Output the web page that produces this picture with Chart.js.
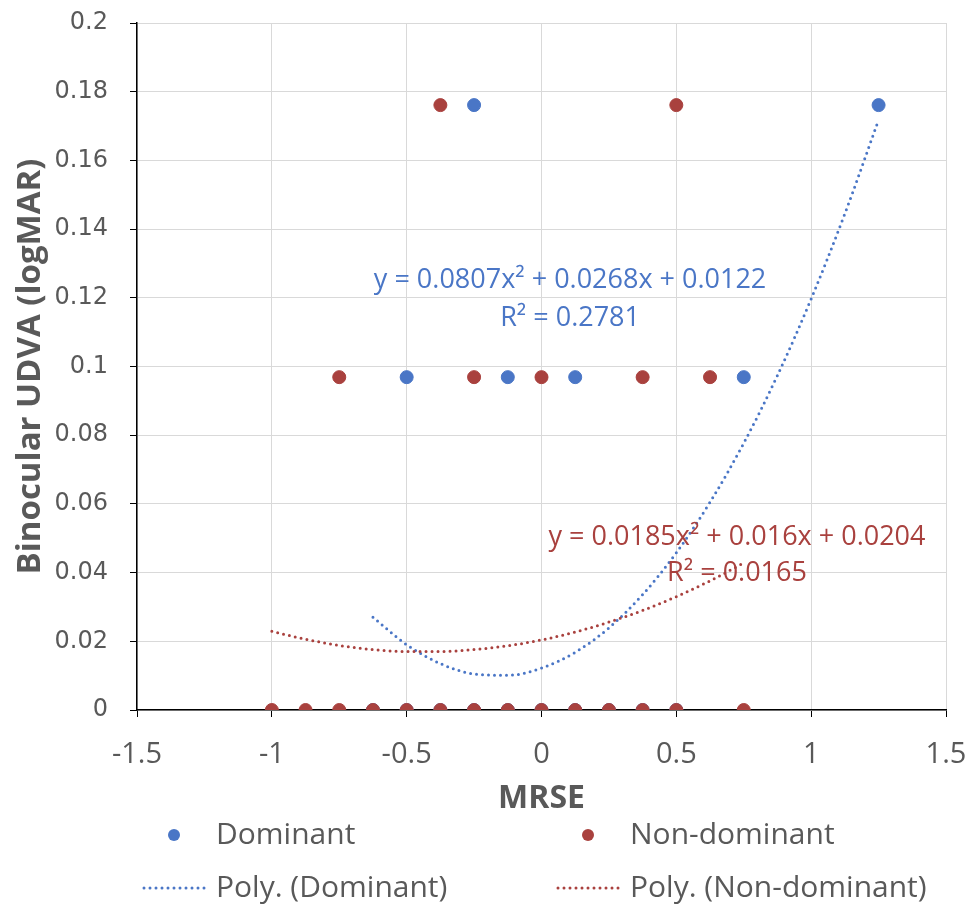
<!DOCTYPE html>
<html>
<head>
<meta charset="utf-8">
<title>Binocular UDVA vs MRSE</title>
<script src="https://cdn.jsdelivr.net/npm/chart.js@4.4.1/dist/chart.umd.min.js"></script>
<style>
    html, body { margin: 0; padding: 0; background: #fff; }
    #wrap { width: 967px; height: 909px; }
</style>
</head>
<body>
<div id="wrap"><canvas id="udvaChart" width="967" height="909"></canvas></div>
<script>
// MRSE (D) against binocular UDVA (logMAR)
const dominantX = [-0.25, 1.25, -0.5, -0.125, 0.125, 0.75, -0.625, -0.5, -0.375, -0.25, -0.125, 0, 0.125, 0.25, 0.375, 0.5];
const dominantY = [0.1761, 0.1761, 0.0969, 0.0969, 0.0969, 0.0969, 0, 0, 0, 0, 0, 0, 0, 0, 0, 0];

const nonDominantX = [-0.375, 0.5, -0.75, -0.25, 0, 0.375, 0.625, -1, -0.875, -0.75, -0.625, -0.5, -0.375, -0.25, -0.125, 0, 0.125, 0.25, 0.375, 0.5, 0.75];
const nonDominantY = [0.1761, 0.1761, 0.0969, 0.0969, 0.0969, 0.0969, 0.0969, 0, 0, 0, 0, 0, 0, 0, 0, 0, 0, 0, 0, 0, 0];

// polynomial trendlines, values
const domTrendX = [-0.625, -0.5, -0.375, -0.25, -0.125, 0, 0.125, 0.25, 0.375, 0.5, 0.625, 0.75, 0.875, 1, 1.125, 1.25];
const domTrendY = [0.0270, 0.0190, 0.0135, 0.0105, 0.0101, 0.0122, 0.0168, 0.0239, 0.0336, 0.0458, 0.0605, 0.0777, 0.0974, 0.1197, 0.1445, 0.1718];

const nonTrendX = [-1, -0.875, -0.75, -0.625, -0.5, -0.375, -0.25, -0.125, 0, 0.125, 0.25, 0.375, 0.5, 0.625, 0.75];
const nonTrendY = [0.0229, 0.0206, 0.0188, 0.0176, 0.0170, 0.0170, 0.0176, 0.0187, 0.0204, 0.0227, 0.0256, 0.0290, 0.0330, 0.0376, 0.0428];

const domEquation = ['y = 0.0807x² + 0.0268x + 0.0122', 'R² = 0.2781'];
const nonEquation = ['y = 0.0185x² + 0.016x + 0.0204', 'R² = 0.0165'];

const BLUE = '#4A76C6';
const RED = '#A9413E';
const TEXT = '#595959';
const FONT = '"Open Sans", "DejaVu Sans", sans-serif';

function toPoints(xs, ys) {
    return xs.map((x, i) => ({ x: x, y: ys[i] }));
}

// Equation labels, anchored in data units
const trendLabels = {
    id: 'trendLabels',
    afterDatasetsDraw(chart) {
        const { ctx, scales: { x, y } } = chart;
        const labels = [
            { lines: domEquation, color: BLUE, x: 0.106, y: [0.1252, 0.1141] },
            { lines: nonEquation, color: RED, x: 0.725, y: [0.0504, 0.0399] }
        ];
        ctx.save();
        ctx.font = '27px ' + FONT;
        ctx.textAlign = 'center';
        ctx.textBaseline = 'middle';
        labels.forEach(l => {
            ctx.fillStyle = l.color;
            l.lines.forEach((t, i) => {
                ctx.fillText(t, x.getPixelForValue(l.x), y.getPixelForValue(l.y[i]));
            });
        });
        ctx.restore();
    }
};

// Two-column legend under the axis title
const bottomLegend = {
    id: 'bottomLegend',
    afterDraw(chart) {
        const ctx = chart.ctx;
        const cols = [216, 630];
        const rows = [835, 888];
        const items = [
            { text: 'Dominant', color: BLUE, kind: 'dot', col: 0, row: 0 },
            { text: 'Non-dominant', color: RED, kind: 'dot', col: 1, row: 0 },
            { text: 'Poly. (Dominant)', color: BLUE, kind: 'line', col: 0, row: 1 },
            { text: 'Poly. (Non-dominant)', color: RED, kind: 'line', col: 1, row: 1 }
        ];
        ctx.save();
        ctx.font = '30px ' + FONT;
        ctx.textBaseline = 'middle';
        items.forEach(it => {
            const tx = cols[it.col];
            const ty = rows[it.row];
            if (it.kind === 'dot') {
                ctx.fillStyle = it.color;
                ctx.beginPath();
                ctx.arc(tx - 42, ty, 6, 0, Math.PI * 2);
                ctx.fill();
            } else {
                ctx.strokeStyle = it.color;
                ctx.lineWidth = 3;
                ctx.lineCap = 'round';
                ctx.setLineDash([0, 6]);
                ctx.beginPath();
                ctx.moveTo(tx - 72, ty);
                ctx.lineTo(tx - 8, ty);
                ctx.stroke();
                ctx.setLineDash([]);
            }
            ctx.fillStyle = TEXT;
            ctx.fillText(it.text, tx, ty);
        });
        ctx.restore();
    }
};

function initializeChart() {
    const ctx = document.getElementById('udvaChart');
    if (!ctx) return;

    new Chart(ctx, {
        type: 'scatter',
        data: {
            datasets: [{
                label: 'Poly. (Non-dominant)',
                data: toPoints(nonTrendX, nonTrendY),
                showLine: true,
                borderColor: RED,
                borderWidth: 3,
                borderDash: [0, 6],
                borderCapStyle: 'round',
                cubicInterpolationMode: 'monotone',
                pointRadius: 0,
                order: 0
            }, {
                label: 'Poly. (Dominant)',
                data: toPoints(domTrendX, domTrendY),
                showLine: true,
                borderColor: BLUE,
                borderWidth: 3,
                borderDash: [0, 6],
                borderCapStyle: 'round',
                cubicInterpolationMode: 'monotone',
                pointRadius: 0,
                order: 1
            }, {
                label: 'Non-dominant',
                data: toPoints(nonDominantX, nonDominantY),
                backgroundColor: RED,
                borderColor: RED,
                pointRadius: 6.5,
                order: 2
            }, {
                label: 'Dominant',
                data: toPoints(dominantX, dominantY),
                backgroundColor: BLUE,
                borderColor: BLUE,
                pointRadius: 6.5,
                order: 3
            }]
        },
        options: {
            responsive: false,
            animation: false,
            events: [],
            layout: {
                padding: { left: 0, top: 23, right: 21, bottom: 91 }
            },
            scales: {
                x: {
                    type: 'linear',
                    min: -1.5,
                    max: 1.5,
                    afterFit: s => {
                        s.height = 108;
                        s.paddingLeft = 0;
                        s.paddingRight = 0;
                    },
                    ticks: {
                        stepSize: 0.5,
                        padding: 20,
                        color: TEXT,
                        font: { family: FONT, size: 29 },
                        callback: v => String(+v.toFixed(1))
                    },
                    grid: { color: '#D9D9D9', lineWidth: 1, tickColor: '#000', tickLength: 7 },
                    border: { color: '#000', width: 1.5 },
                    title: {
                        display: true,
                        text: 'MRSE',
                        color: TEXT,
                        padding: 0,
                        font: { family: FONT, size: 32, weight: 'bold' }
                    }
                },
                y: {
                    type: 'linear',
                    min: 0,
                    max: 0.2,
                    afterFit: s => {
                        s.width = 137;
                        s.paddingTop = 0;
                        s.paddingBottom = 0;
                    },
                    ticks: {
                        stepSize: 0.02,
                        padding: 22,
                        color: TEXT,
                        font: { family: '"DejaVu Sans", sans-serif', size: 24 },
                        callback: v => String(+v.toFixed(2))
                    },
                    grid: { color: '#D9D9D9', lineWidth: 1, tickColor: '#000', tickLength: 7 },
                    border: { color: '#000', width: 1.5 },
                    title: {
                        display: true,
                        text: 'Binocular UDVA (logMAR)',
                        color: TEXT,
                        padding: { top: 11, bottom: 0 },
                        font: { family: FONT, size: 33, weight: 'bold' }
                    }
                }
            },
            plugins: {
                legend: { display: false },
                tooltip: { enabled: false }
            }
        },
        plugins: [trendLabels, bottomLegend]
    });
}

initializeChart();
</script>
</body>
</html>
